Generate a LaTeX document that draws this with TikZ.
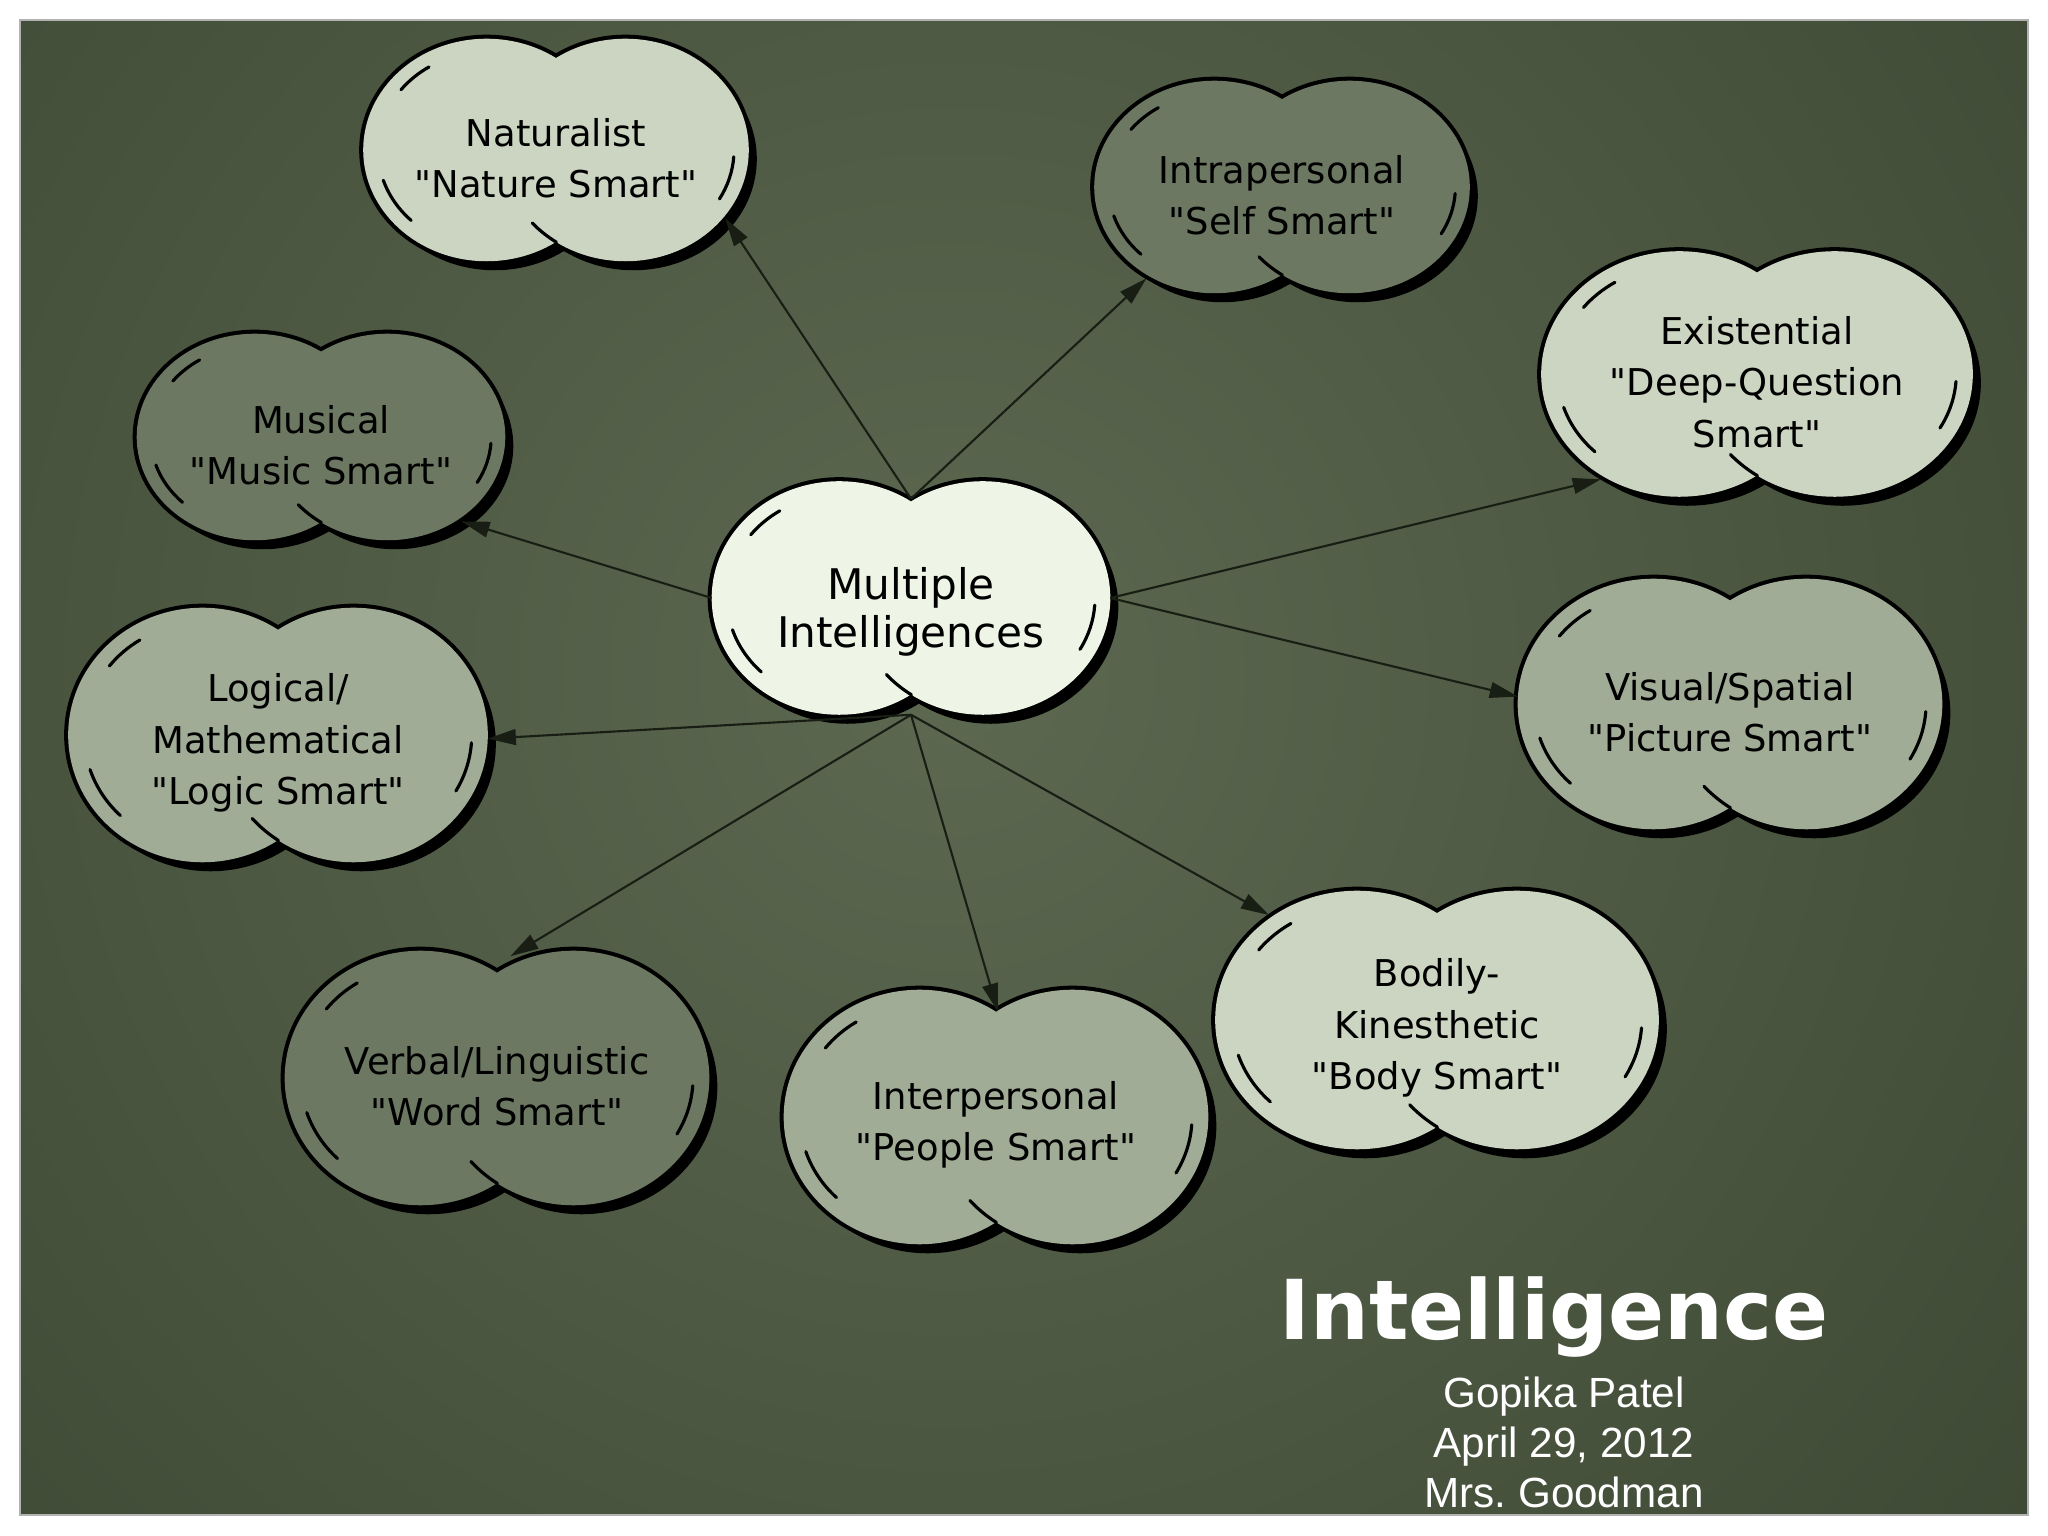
\documentclass[tikz,border=0pt]{standalone}
\usepackage{fontspec}
\setmainfont{DejaVu Sans}[Ligatures=TeXOff]
\newfontfamily\namefont{Liberation Sans}
\usetikzlibrary{shapes.misc,arrows.meta,positioning,backgrounds,calc}
\definecolor{boardin}{RGB}{92,104,80}
\definecolor{boardout}{RGB}{48,60,40}
\definecolor{mainfill}{RGB}{238,245,230}
\definecolor{lightfill}{RGB}{203,213,193}
\definecolor{midfill}{RGB}{160,172,150}
\definecolor{darkfill}{RGB}{108,120,98}
\definecolor{linecol}{RGB}{25,30,20}

\begin{document}
\begin{tikzpicture}[x=0.01cm, y=0.01cm,
  idea/.style={rounded rectangle, inner sep=0pt, align=center, text=black,
               font=\fontsize{10.5}{14.6}\selectfont, text height=27.2pt},
  three lines/.style={text height=41.8pt},
  link/.style={->, draw=linecol, line width=0.6pt},
  lobe/.style={x radius=\lobea, y radius=\lobeb},
  inlobe/.style={x radius=0.88*\lobea, y radius=0.88*\lobeb},
  pen/.style={black, line width=0.9pt, line cap=round},
  >={Triangle[length=8pt,width=4.5pt]}
]
  \useasboundingbox (0,0) rectangle (2048,1536);

  % centre idea
  \node[idea, minimum width=3.97cm, minimum height=2.32cm,
        font=\fontsize{12}{13.7}\selectfont, text height=30.8pt] (mi) at (911,938) {Multiple\\Intelligences};

  % the nine intelligences, clockwise from the top
  \node[idea, minimum width=3.84cm, minimum height=2.21cm] (nat) at (556,1386) {Naturalist\\"Nature Smart"};
  \node[idea, minimum width=3.74cm, minimum height=2.11cm] (intra) at (1282,1349) {Intrapersonal\\"Self Smart"};
  \node[idea, three lines, minimum width=4.30cm, minimum height=2.44cm] (exist) at (1757,1162) {Existential\\"Deep-Question\\Smart"};
  \node[idea, minimum width=4.23cm, minimum height=2.49cm] (visual) at (1730,832) {Visual/Spatial\\"Picture Smart"};
  \node[idea, three lines, minimum width=4.42cm, minimum height=2.57cm] (body) at (1437,516) {Bodily-\\Kinesthetic\\"Body Smart"};
  \node[idea, minimum width=4.23cm, minimum height=2.53cm] (inter) at (996,419) {Interpersonal\\"People Smart"};
  \node[idea, minimum width=4.23cm, minimum height=2.53cm] (verbal) at (497,458) {Verbal/Linguistic\\"Word Smart"};
  \node[idea, three lines, minimum width=4.18cm, minimum height=2.53cm] (logic) at (278,801) {Logical/\\Mathematical\\"Logic Smart"};
  \node[idea, minimum width=3.67cm, minimum height=2.05cm] (music) at (321,1099) {Musical\\"Music Smart"};

  % arrows out of the centre
  \draw[link] ([yshift=-5pt]mi.north) -- (nat.-22);
  \draw[link] ([yshift=-5pt]mi.north) -- (intra.-146);
  \draw[link] (mi.west) -- (music.-31);
  \foreach \t in {exist.-146, visual.178}
    \draw[link] (mi.east) -- (\t);
  \foreach \t/\s in {logic.-1/0pt, verbal.80/-3pt, inter.92/-6.5pt, body.148/0pt}
    \draw[link, shorten >=\s] (mi.south) -- (\t);

  % title and byline
  \node[text=white, inner sep=0pt, anchor=base,
        font=\bfseries\fontsize{23.5}{28}\selectfont] (title) at (1554,196) {Intelligence};
  \node[text=white, inner sep=0pt, align=center, below=5pt of title, xshift=0.1cm,
        font=\namefont\fontsize{12}{14.2}\selectfont] (byline) {Gopika Patel\\April 29, 2012\\Mrs.\ Goodman};

  \begin{pgfonlayer}{background}
    % board
    \begin{scope}
      \clip (20,21) rectangle (2028,1516);
      \shade[inner color=boardin, outer color=boardout] (950,860) circle (2000);
    \end{scope}
    \draw[gray!60, line width=0.6pt] (20,21) rectangle (2028,1516);

    % clouds behind the labels: two lobes, shadow, outline, pen strokes
    \foreach \cl/\fc in {mi/mainfill, nat/lightfill, intra/darkfill,
                         exist/lightfill, visual/midfill, body/lightfill,
                         inter/midfill, verbal/darkfill, logic/midfill,
                         music/darkfill} {
      \path let \p1 = ($(\cl.east)-(\cl.west)$), \p2 = ($(\cl.north)-(\cl.south)$) in
        \pgfextra{\pgfmathsetmacro\lobea{0.32*\x1}\pgfmathsetmacro\lobeb{0.5*\y2}%
                  \xdef\lobea{\lobea pt}\xdef\lobeb{\lobeb pt}};
      \coordinate (L) at ($(\cl.center)!0.36!(\cl.west)$);
      \coordinate (R) at ($(\cl.center)!0.36!(\cl.east)$);
      \fill[black] ([shift={(8,-9)}]L) ellipse [lobe] ([shift={(8,-9)}]R) ellipse [lobe];
      \draw[black, line width=2.3pt] (L) ellipse [lobe] (R) ellipse [lobe];
      \fill[\fc] (L) ellipse [lobe] (R) ellipse [lobe];
      \foreach \lb/\sa/\ea in {L/122/142, L/198/226, R/-30/-4}
        \draw[pen] (\lb) ++(\sa:{0.88*\lobea} and {0.88*\lobeb})
              arc[start angle=\sa, end angle=\ea, inlobe];
      \draw[pen] (R) ++(236:{\lobea} and {\lobeb}) arc[start angle=236, end angle=221, lobe];
    }
  \end{pgfonlayer}
\end{tikzpicture}
\end{document}
